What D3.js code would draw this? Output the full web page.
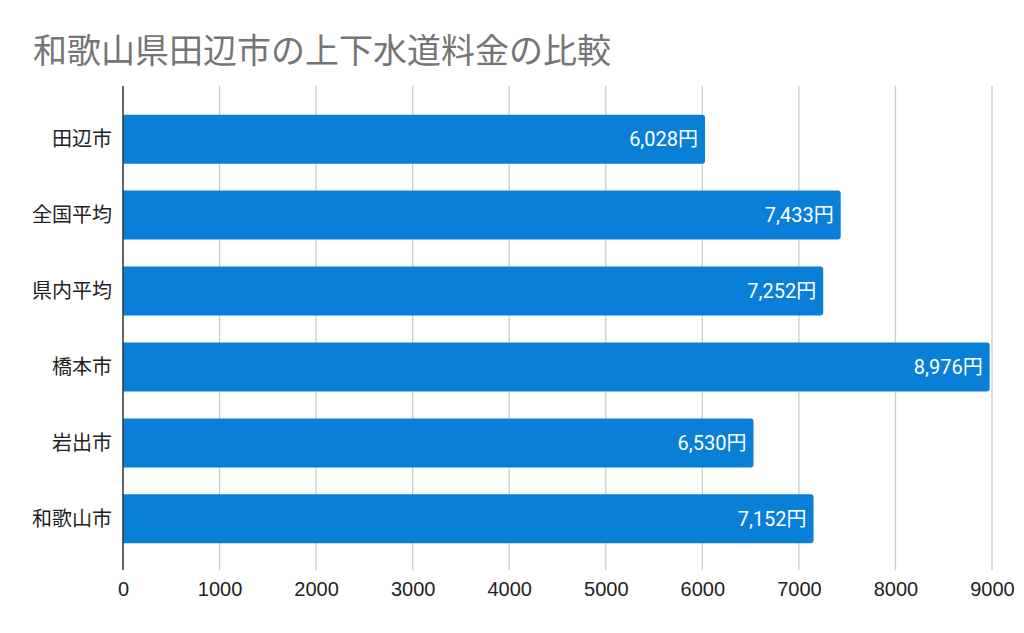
<!DOCTYPE html>
<html>
<head>
<meta charset="utf-8">
<script src="https://cdn.jsdelivr.net/npm/d3@7"></script>
<style>
  body { margin: 0; background: #fff; }
  svg { display: block; }
</style>
</head>
<body>
<div id="chart"></div>
<script>
// data
var cities = ["田辺市", "全国平均", "県内平均", "橋本市", "岩出市", "和歌山市"];
var charges = [6028, 7433, 7252, 8976, 6530, 7152];
var xTicks = [0, 1000, 2000, 3000, 4000, 5000, 6000, 7000, 8000, 9000];
var title = "和歌山県田辺市の上下水道料金の比較";

var W = 1024, H = 633;
var plotLeft = 123, plotRight = 992, plotTop = 86, plotBottom = 570;

var svg = d3.select("#chart").append("svg")
    .attr("width", W)
    .attr("height", H);

// title
svg.append("text")
    .attr("x", 33)
    .attr("y", 63)
    .attr("fill", "#757575")
    .style("font-family", "'Noto Sans CJK JP', 'Noto Sans', sans-serif")
    .style("font-size", "34px")
    .text(title);

var x = d3.scaleLinear().domain([0, 9000]).range([plotLeft, plotRight]);
var y = d3.scaleBand().domain(cities).range([101, 557]).paddingInner(0.355).paddingOuter(0.18);

// vertical grid lines
svg.append("g")
    .selectAll("line")
    .data(xTicks.slice(1))
    .join("line")
    .attr("x1", function(d) { return x(d); })
    .attr("x2", function(d) { return x(d); })
    .attr("y1", plotTop)
    .attr("y2", plotBottom)
    .attr("stroke", "#cccccc")
    .attr("stroke-width", 1.3);

// bars (rounded only on the right end)
svg.append("g")
    .selectAll("path")
    .data(cities)
    .join("path")
    .attr("fill", "#0a7fd8")
    .attr("d", function(d, i) {
      var x0 = x(0), x1 = x(charges[i]), y0 = y(d), h = y.bandwidth(), r = 3;
      return "M" + x0 + "," + y0 +
        "H" + (x1 - r) + "Q" + x1 + "," + y0 + " " + x1 + "," + (y0 + r) +
        "V" + (y0 + h - r) + "Q" + x1 + "," + (y0 + h) + " " + (x1 - r) + "," + (y0 + h) +
        "H" + x0 + "Z";
    });

// value labels inside bars
svg.append("g")
    .selectAll("text")
    .data(cities)
    .join("text")
    .attr("x", function(d, i) { return x(charges[i]) - 7; })
    .attr("y", function(d) { return y(d) + y.bandwidth() / 2; })
    .attr("dy", "0.36em")
    .attr("text-anchor", "end")
    .attr("fill", "#ffffff")
    .style("font-family", "Roboto, 'Noto Sans CJK JP', sans-serif")
    .style("font-size", "20px")
    .text(function(d, i) { return d3.format(",")(charges[i]) + "円"; });

// category labels
svg.append("g")
    .selectAll("text")
    .data(cities)
    .join("text")
    .attr("x", 112)
    .attr("y", function(d) { return y(d) + y.bandwidth() / 2; })
    .attr("dy", "0.36em")
    .attr("text-anchor", "end")
    .attr("fill", "#222")
    .style("font-family", "'Noto Sans CJK JP', sans-serif")
    .style("font-size", "20px")
    .text(function(d) { return d; });

// baseline axis
svg.append("line")
    .attr("x1", x(0)).attr("x2", x(0))
    .attr("y1", plotTop).attr("y2", plotBottom)
    .attr("stroke", "#333")
    .attr("stroke-width", 1.5);

// x axis tick labels
var xAxis = svg.append("g")
    .attr("transform", "translate(0," + plotBottom + ")")
    .call(d3.axisBottom(x).tickValues(xTicks).tickFormat(d3.format("d")).tickSize(0).tickPadding(12));
xAxis.select(".domain").remove();
xAxis.selectAll("text")
    .attr("fill", "#222")
    .style("font-family", "'Liberation Sans', Arial, sans-serif")
    .style("font-size", "20px");
</script>
</body>
</html>
